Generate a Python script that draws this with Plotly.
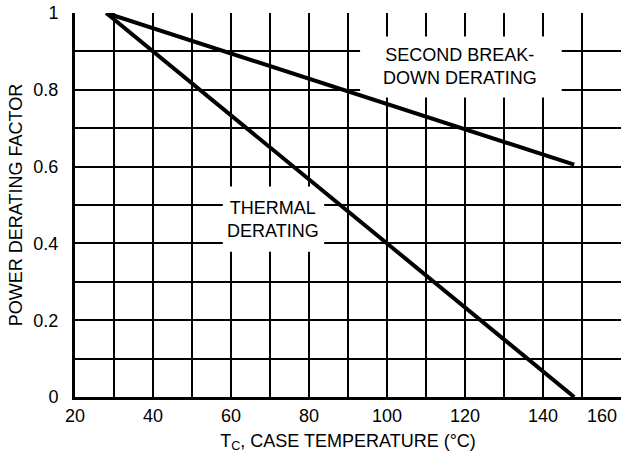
import plotly.graph_objects as go

# Data
thermal_x = [28, 148]
thermal_y = [1.0, 0.0]
sb_x = [28, 148]
sb_y = [1.0, 0.605]

x_ticks = [20, 40, 60, 80, 100, 120, 140]
x_labels = ["20", "40", "60", "80", "100", "120", "140"]
y_ticks = [0, 0.2, 0.4, 0.6, 0.8, 1.0]
y_labels = ["0", "0.2", "0.4", "0.6", "0.8", "1"]

FONT = "Liberation Sans, Arial, sans-serif"
FS = 18

fig = go.Figure()
fig.add_trace(go.Scatter(x=thermal_x, y=thermal_y, mode="lines",
                         line=dict(color="black", width=4), showlegend=False))
fig.add_trace(go.Scatter(x=sb_x, y=sb_y, mode="lines",
                         line=dict(color="black", width=4), showlegend=False))

# white label boxes (above grid, below traces)
fig.add_shape(type="rect", x0=93.1, x1=144.8, y0=0.78, y1=0.939,
              fillcolor="white", line=dict(width=0), layer="between")
fig.add_shape(type="rect", x0=57.9, x1=83.9, y0=0.378, y1=0.548,
              fillcolor="white", line=dict(width=0), layer="between")

fig.add_annotation(x=118.8, y=0.86, text="SECOND BREAK-<br>DOWN DERATING",
                   showarrow=False, font=dict(family=FONT, size=FS, color="black"),
                   align="center")
fig.add_annotation(x=70.8, y=0.463, text="THERMAL<br>DERATING",
                   showarrow=False, font=dict(family=FONT, size=FS, color="black"),
                   align="center")
fig.add_annotation(x=155, xref="x", y=0, yref="paper", yshift=-7,
                   text="160", showarrow=False, xanchor="center", yanchor="top",
                   font=dict(family=FONT, size=FS, color="black"))

grid = dict(showgrid=True, gridcolor="black", gridwidth=1.5)
fig.update_xaxes(range=[20, 160], tickmode="array", tickvals=x_ticks, ticktext=x_labels,
                 minor=dict(dtick=10, tick0=0, **grid), **grid, automargin=False,
                 ticklabeloverflow="allow",
                 showline=True, linecolor="black", linewidth=3, zeroline=False,
                 ticks="", tickfont=dict(family=FONT, size=FS, color="black"),
                 title=dict(text="T<sub>C</sub>, CASE TEMPERATURE (°C)",
                            font=dict(family=FONT, size=FS, color="black"), standoff=10))
fig.update_yaxes(range=[0, 1], tickmode="array", tickvals=y_ticks, ticktext=y_labels,
                 minor=dict(dtick=0.1, tick0=0, **grid), **grid, automargin=False,
                 ticklabeloverflow="allow",
                 showline=True, linecolor="black", linewidth=3, zeroline=False,
                 ticks="", ticklabelstandoff=10, tickfont=dict(family=FONT, size=FS, color="black"),
                 title=dict(text="POWER DERATING FACTOR",
                            font=dict(family=FONT, size=FS, color="black"), standoff=7))

fig.update_layout(width=621, height=461, margin=dict(l=75, r=0, t=13, b=64),
                  plot_bgcolor="white", paper_bgcolor="white")

fig.write_html("out.html", config={"displayModeBar": False},
               post_script="document.body.style.margin='0';document.body.style.overflow='hidden';")
